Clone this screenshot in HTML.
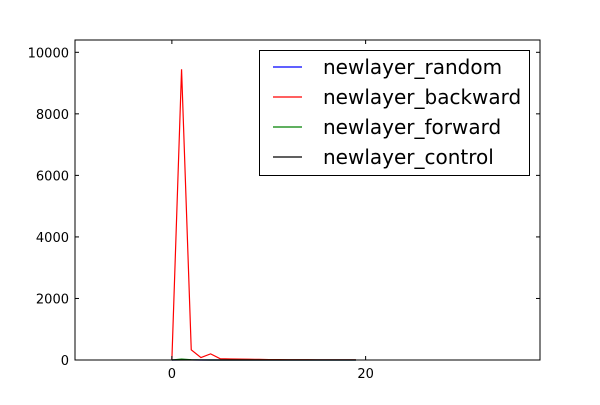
<!DOCTYPE html>
<html><head><meta charset="utf-8"><style>
body{margin:0;background:#fff;width:600px;height:400px;overflow:hidden}
svg text{font-family:"DejaVu Sans","Liberation Sans",sans-serif}
</style></head><body>
<svg width="600" height="400" id="chart">
<rect x="0" y="0" width="600" height="400" fill="#fff"/>
<g id="marks"></g><g id="axes"></g><g id="legend"></g>
</svg>
<script>
const xs=[0,1,2,3,4,5,6,7,8,9,10,11,12,13,14,15,16,17,18,19];
const backward=[0,9450,330,80,200,40,35,30,25,20,15,12,10,8,8,6,6,5,5,5];
const forward=[0,30,10,2,1,1,0,0,0,0,0,0,0,0,0,0,0,0,0,0];
const random=[0,5,2,1,0,0,0,0,0,0,0,0,0,0,0,0,0,0,0,0];
const control=[0,0,0,0,0,0,0,0,0,0,0,0,0,0,0,0,0,0,0,0];
const xTicks=[0,20];
const yTicks=[0,2000,4000,6000,8000,10000];
const seriesNames=["newlayer_random","newlayer_backward","newlayer_forward","newlayer_control"];
const L=75,R=540,T=40,B=360,xmin=-10,xmax=38,ymin=0,ymax=10400;
const sx=v=>L+(v-xmin)/(xmax-xmin)*(R-L);
const sy=v=>B-(v-ymin)/(ymax-ymin)*(B-T);
const NS="http://www.w3.org/2000/svg";
function mk(t,a,p){const e=document.createElementNS(NS,t);for(const k in a)e.setAttribute(k,a[k]);p.appendChild(e);return e;}
const marks=document.getElementById('marks'),axes=document.getElementById('axes'),leg=document.getElementById('legend');
const series=[[random,"#0000ff"],[backward,"#ff0000"],[forward,"#008000"],[control,"#000000"]];
series.forEach((s,i)=>{
 const p=mk('polyline',{points:xs.map((x,j)=>sx(x)+','+sy(s[0][j])).join(' '),fill:'none',stroke:s[1],'stroke-width':1.2},marks);
 
 
});
const fr=mk('rect',{x:L,y:T,width:R-L,height:B-T,fill:'none',stroke:'#000','stroke-width':1},axes);


xTicks.forEach(v=>{
 const x=sx(v);
 mk('line',{x1:x,x2:x,y1:B,y2:B-4,stroke:'#000'},axes);
 mk('line',{x1:x,x2:x,y1:T,y2:T+4,stroke:'#000'},axes);
 const t=mk('text',{x:x,y:B+18,'text-anchor':'middle','font-size':13},axes);t.textContent=v;
 
 
});
yTicks.forEach(v=>{
 const y=sy(v);
 mk('line',{x1:L,x2:L+4,y1:y,y2:y,stroke:'#000'},axes);
 mk('line',{x1:R,x2:R-4,y1:y,y2:y,stroke:'#000'},axes);
 const t=mk('text',{x:L-6,y:y+5,'text-anchor':'end','font-size':13},axes);t.textContent=v;
 
 
});
const box=mk('rect',{x:259.5,y:50.5,width:270,height:125,fill:'#fff',stroke:'#000'},leg);


series.forEach((s,i)=>{
 const y=67+i*30;
 mk('line',{x1:273,x2:302,y1:y,y2:y,stroke:s[1],'stroke-width':1.2},leg);
 const t=mk('text',{x:323,y:y+7,'font-size':20},leg);t.textContent=seriesNames[i];
 
 
});
</script>
</body></html>
